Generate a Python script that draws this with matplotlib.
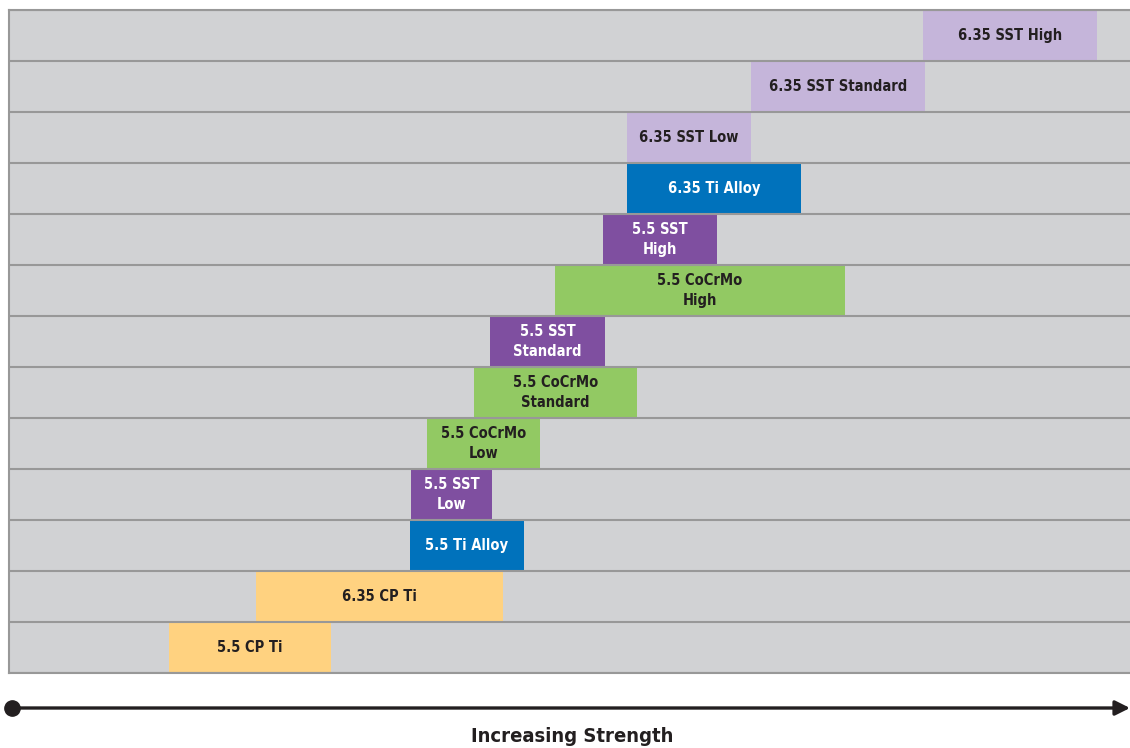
import matplotlib
matplotlib.use("Agg")
import matplotlib.pyplot as plt
from matplotlib.patches import FancyArrowPatch
from matplotlib.lines import Line2D

# Implant rod options, bottom row first
labels = [
    "5.5 CP Ti",
    "6.35 CP Ti",
    "5.5 Ti Alloy",
    "5.5 SST\nLow",
    "5.5 CoCrMo\nLow",
    "5.5 CoCrMo\nStandard",
    "5.5 SST\nStandard",
    "5.5 CoCrMo\nHigh",
    "5.5 SST\nHigh",
    "6.35 Ti Alloy",
    "6.35 SST Low",
    "6.35 SST Standard",
    "6.35 SST High",
]
# Strength range of each option (relative units)
range_start = [160, 247, 401, 402, 418, 465, 481, 546, 594, 618, 618, 742, 914]
range_end = [322, 494, 515, 483, 531, 628, 596, 836, 708, 792, 742, 916, 1088]
materials = ["CP Ti", "CP Ti", "Ti Alloy", "SST", "CoCrMo", "CoCrMo", "SST",
             "CoCrMo", "SST", "Ti Alloy 6.35", "SST 6.35", "SST 6.35", "SST 6.35"]

fill_colors = {
    "CP Ti": "#FFD280",
    "Ti Alloy": "#0072BC",
    "SST": "#7F4FA0",
    "CoCrMo": "#92C963",
    "Ti Alloy 6.35": "#0072BC",
    "SST 6.35": "#C5B5DA",
}
text_colors = {
    "CP Ti": "#231F20",
    "Ti Alloy": "white",
    "SST": "white",
    "CoCrMo": "#231F20",
    "Ti Alloy 6.35": "white",
    "SST 6.35": "#231F20",
}

FONT = ["DejaVu Sans"]
W, H = 1130, 748
fig = plt.figure(figsize=(W / 100, H / 100), dpi=100)
ax = fig.add_axes([9 / W, 1 - 673 / H, (W - 9) / W, (673 - 10) / H])
ax.set_facecolor("#D1D2D4")
ax.set_xlim(0, 1121)
ax.set_ylim(-0.5, len(labels) - 0.5)

grid_color = "#989898"
for i, (lab, s, e, m) in enumerate(zip(labels, range_start, range_end, materials)):
    ax.barh(i, e - s, left=s, height=1.0, color=fill_colors[m], zorder=1, linewidth=0)
    ax.text((s + e) / 2, i, lab, ha="center", va="center", fontsize=10.5,
            fontweight="bold", family=FONT, fontstretch="condensed",
            color=text_colors[m], linespacing=1.45, zorder=3)

for k in range(len(labels) + 1):
    ax.axhline(k - 0.5, color=grid_color, lw=1.5, zorder=2)

for side in ["left", "bottom", "top"]:
    ax.spines[side].set_color(grid_color)
    ax.spines[side].set_linewidth(1.5)
ax.spines["right"].set_visible(False)
ax.set_xticks([])
ax.set_yticks([])

# Direction arrow under the chart
y_arrow = 1 - 708 / H
arrow = FancyArrowPatch((12 / W, y_arrow), (1130 / W, y_arrow),
                        transform=fig.transFigure, arrowstyle="-|>",
                        mutation_scale=22, color="#231F20", lw=2.4,
                        shrinkA=0, shrinkB=0)
fig.add_artist(arrow)
fig.add_artist(Line2D([12 / W], [y_arrow], marker="o", markersize=11,
                      color="#231F20", transform=fig.transFigure))
fig.text(572 / W, 1 - 737 / H, "Increasing Strength", ha="center", va="center",
         fontsize=14.5, fontweight="bold", family=FONT, fontstretch="condensed",
         color="#231F20")

fig.savefig("out.png", dpi=100)
